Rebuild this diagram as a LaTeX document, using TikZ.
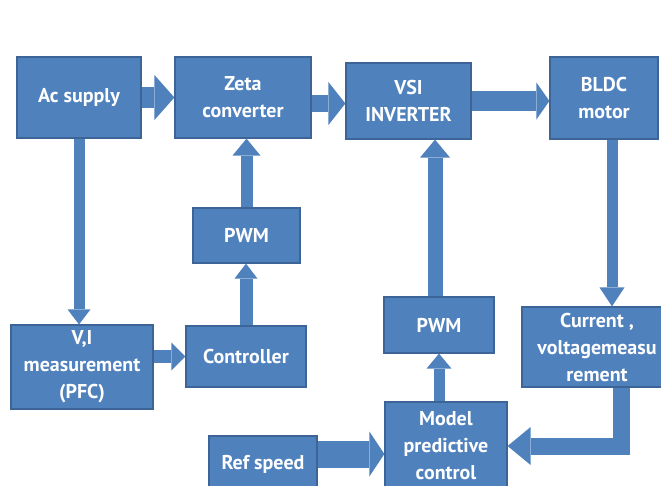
\documentclass[tikz,border=0pt]{standalone}
\usepackage{fontspec}
\setmainfont{PT Sans}
\usetikzlibrary{arrows.meta,positioning}
\definecolor{bblue}{RGB}{79,129,189}
\definecolor{bedge}{RGB}{60,100,150}

\begin{document}
\begin{tikzpicture}[x=1pt,y=-1pt,
  blk/.style={fill=bblue,draw=bedge,line width=1.2pt,text=white,align=center,
    inner sep=0pt,font=\bfseries\fontsize{20}{27}\selectfont}]
\useasboundingbox (0,0) rectangle (661,485);
\clip (0,0) rectangle (661,485);
% top row
\node[blk,minimum width=124,minimum height=81] (ac) at (79,97.5) {Ac supply};
\node[blk,minimum width=136,minimum height=81] (zeta) at (243,97.5) {Zeta\\converter};
\node[blk,minimum width=125,minimum height=76] (vsi) at (408.5,101) {VSI\\INVERTER};
\node[blk,minimum width=108,minimum height=82] (bldc) at (604,98) {BLDC\\motor};
% lower blocks
\node[blk,minimum width=107,minimum height=55] (pwmA) at (246.5,235.5) {PWM};
\node[blk,minimum width=142,minimum height=84] (vi) at (82,367) {V,I\\measurement\\(PFC)};
\node[blk,minimum width=120,minimum height=61] (ctrl) at (246,356.5) {Controller};
\node[blk,minimum width=110,minimum height=56] (pwmB) at (439,325) {PWM};
\node[blk,minimum width=150,minimum height=80] (meas) at (597,347) {Current ,\\voltagemeasu\\rement};
\node[blk,minimum width=122,minimum height=88] (mpc) at (446,446) {Model\\predictive\\control};
\node[blk,minimum width=108,minimum height=56] (ref) at (263,464) {Ref speed};
% arrow ends off the centre lines
\coordinate (zetaR) at ([yshift=-6pt]zeta.east);
\coordinate (pwmBt) at ([xshift=-4pt]pwmB.north);
\coordinate (bldcB) at ([xshift=8pt]bldc.south);
\coordinate (mpcL) at ([yshift=-8pt]mpc.west);
\coordinate (measB) at ([xshift=24pt]meas.south);
% block arrows
\foreach \s/\t/\w/\hw/\hl in {%
  ac.east/zeta.west/21/45/20,
  zetaR/{zetaR -| vsi.west}/17/43/17,
  vsi.east/{vsi.east -| bldc.west}/20/37/13,
  ac.south/{ac.south |- vi.north}/11/23/15,
  pwmA.north/{pwmA.north |- zeta.south}/12/28/17,
  ctrl.north/{ctrl.north |- pwmA.south}/13/23/15,
  pwmBt/{pwmBt |- vsi.south}/15/30/18,
  {mpc.north -| pwmB.south}/pwmB.south/11/25/15,
  bldcB/{bldcB |- meas.north}/11/25/19,
  {ctrl.west -| vi.east}/ctrl.west/13/28/14,
  {mpcL -| ref.east}/mpcL/27/45/15}{%
  \draw[bblue,line width=\w pt,-{Triangle[width=\hw pt,length=\hl pt,line width=0pt]}] (\s) -- (\t);
}
\draw[bblue,line width=17pt,-{Triangle[width=38pt,length=23pt,line width=0pt]}]
  (measB) |- (mpc.east);
\end{tikzpicture}
\end{document}
